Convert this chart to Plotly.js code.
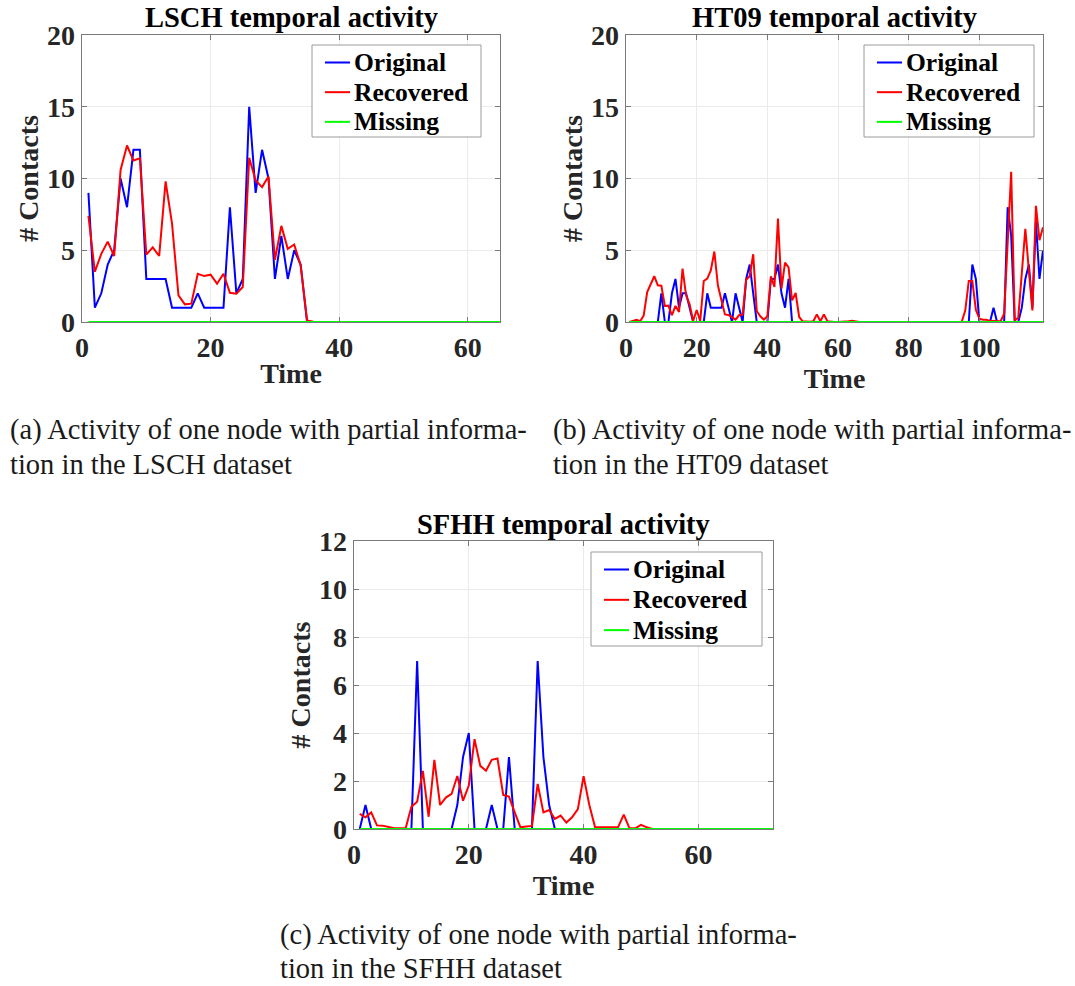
<!DOCTYPE html>
<html>
<head>
<meta charset="utf-8">
<script src="https://cdn.plot.ly/plotly-3.0.1.min.js"></script>
<style>
  html, body { margin: 0; padding: 0; background: #ffffff; }
  #chart { width: 1075px; height: 986px; }
</style>
</head>
<body>
<div id="chart"></div>
<script>
// ---- LSCH node activity (time steps 1..65) ----
const lschTime = [1,2,3,4,5,6,7,8,9,10,11,12,13,14,15,16,17,18,19,20,21,22,23,24,25,26,27,28,29,30,31,32,33,34,35,36,37,38,39,40,41,42,43,44,45,46,47,48,49,50,51,52,53,54,55,56,57,58,59,60,61,62,63,64,65];
const lschOriginal = [9,1,2,4,5,10,8,12,12,3,3,3,3,1,1,1,1,2,1,1,1,1,8,2,3,15,9,12,10,3,6,3,5,4,0,0,0,0,0,0,0,0,0,0,0,0,0,0,0,0,0,0,0,0,0,0,0,0,0,0,0,0,0,0,0];
const lschRecovered = [7.4,3.5,4.75,5.6,4.6,10.6,12.3,11.25,11.4,4.7,5.2,4.6,9.8,6.85,1.86,1.23,1.28,3.36,3.2,3.3,2.67,3.36,2.04,1.97,2.44,11.44,9.86,9.4,10.14,4.34,6.7,5.1,5.4,3.94,0.1,0.02,0,0,0,0,0,0,0,0,0,0,0,0,0,0,0,0,0,0,0,0,0,0,0,0,0,0,0,0,0];
const lschMissing = [0,0,0,0,0,0,0,0,0,0,0,0,0,0,0,0,0,0,0,0,0,0,0,0,0,0,0,0,0,0,0,0,0,0,0,0,0,0,0,0,0,0,0,0,0,0,0,0,0,0,0,0,0,0,0,0,0,0,0,0,0,0,0,0,0];

// ---- HT09 node activity (time steps 1..118) ----
const ht09Time = [1,2,3,4,5,6,7,8,9,10,11,12,13,14,15,16,17,18,19,20,21,22,23,24,25,26,27,28,29,30,31,32,33,34,35,36,37,38,39,40,41,42,43,44,45,46,47,48,49,50,51,52,53,54,55,56,57,58,59,60,61,62,63,64,65,66,67,68,69,70,71,72,73,74,75,76,77,78,79,80,81,82,83,84,85,86,87,88,89,90,91,92,93,94,95,96,97,98,99,100,101,102,103,104,105,106,107,108,109,110,111,112,113,114,115,116,117,118];
const ht09Original = [0,0,0,0,0,0,0,0,0,2,0,0,2,3,1,2,2,1,0,0,0,0,2,1,1,1,1,2,1,0,2,1,0,3,4,2,0,0,0,0,3,3,4,2,1,3,0,0,0,0,0,0,0,0,0,0,0,0,0,0,0,0,0,0,0,0,0,0,0,0,0,0,0,0,0,0,0,0,0,0,0,0,0,0,0,0,0,0,0,0,0,0,0,0,0,0,0,4,3,0,0,0,0,1,0,0,0,8,6,0,0,1,3,4,1,7,3,5];
const ht09Recovered = [0,0.1,0.15,0.05,0.45,2.09,2.7,3.19,2.56,2.53,1.12,1.14,0.47,1.12,0.7,3.72,1.86,1.23,0.07,0.84,0.07,2.86,3.02,3.6,4.91,2.56,1.51,0.53,0.49,0.35,0.16,0.47,0.53,2.95,3.19,4.72,0.77,0.4,0.16,0.4,3.19,2.44,7.21,2.33,4.14,3.81,1.51,2.02,0.35,0.05,0.02,0.02,0.05,0.53,0.05,0.53,0.05,0,0,0,0,0,0.05,0.08,0.02,0,0,0,0,0,0,0,0,0,0,0,0,0,0,0,0,0,0,0,0,0,0,0,0,0,0,0,0,0,0.02,0.8,2.86,2.86,0.86,0.23,0.16,0.16,0.07,0.07,0.07,0.05,0.58,5.2,10.47,0.1,0.3,3.4,6.5,3.6,0.8,8.1,5.7,6.6];
const ht09Missing = [0,0,0,0,0,0,0,0,0,0,0,0,0,0,0,0,0,0,0,0,0,0,0,0,0,0,0,0,0,0,0,0,0,0,0,0,0,0,0,0,0,0,0,0,0,0,0,0,0,0,0,0,0,0,0,0,0,0,0,0,0,0,0,0,0,0,0,0,0,0,0,0,0,0,0,0,0,0,0,0,0,0,0,0,0,0,0,0,0,0,0,0,0,0,0,0,0,0,0,0,0,0,0,0,0,0,0,0,0,0,0,0,0,0,0,0,0,0];

// ---- SFHH node activity (time steps 1..73) ----
const sfhhTime = [1,2,3,4,5,6,7,8,9,10,11,12,13,14,15,16,17,18,19,20,21,22,23,24,25,26,27,28,29,30,31,32,33,34,35,36,37,38,39,40,41,42,43,44,45,46,47,48,49,50,51,52,53,54,55,56,57,58,59,60,61,62,63,64,65,66,67,68,69,70,71,72,73];
const sfhhOriginal = [0,1,0,0,0,0,0,0,0,0,7,0,0,0,0,0,0,1,3,4,0,0,0,1,0,0,3,0,0,0,0,7,3,1,0,0,0,0,0,0,0,0,0,0,0,0,0,0,0,0,0,0,0,0,0,0,0,0,0,0,0,0,0,0,0,0,0,0,0,0,0,0,0];
const sfhhRecovered = [0.63,0.49,0.69,0.15,0.14,0.1,0.03,0.03,0.03,0.93,1.14,2.42,0.51,2.88,1.0,1.31,1.46,2.21,1.18,1.81,3.74,2.63,2.43,2.88,2.94,1.42,1.35,0.69,0.07,0.1,0.13,1.88,0.69,0.79,0.42,0.56,0.27,0.49,0.83,2.2,1.0,0.07,0.07,0.07,0.07,0.07,0.6,0.03,0.03,0.17,0.07,0,0,0,0,0,0,0,0,0,0,0,0,0,0,0,0,0,0,0,0,0,0];
const sfhhMissing = [0,0,0,0,0,0,0,0,0,0,0,0,0,0,0,0,0,0,0,0,0,0,0,0,0,0,0,0,0,0,0,0,0,0,0,0,0,0,0,0,0,0,0,0,0,0,0,0,0,0,0,0,0,0,0,0,0,0,0,0,0,0,0,0,0,0,0,0,0,0,0,0,0];

const seriesNames = ['Original', 'Recovered', 'Missing'];
const seriesColors = ['#0000ff', '#ff0000', '#00ff00'];

const panelTitles = ['LSCH temporal activity', 'HT09 temporal activity', 'SFHH temporal activity'];
const captionLines = [
  ['(a) Activity of one node with partial informa-', 'tion in the LSCH dataset'],
  ['(b) Activity of one node with partial informa-', 'tion in the HT09 dataset'],
  ['(c) Activity of one node with partial informa-', 'tion in the SFHH dataset']
];

const W = 1075, H = 986;
const serif = 'Liberation Serif, Times New Roman, serif';

// Pixel boxes of the three plot areas: [left, right, top, bottom]
const boxes = [
  [82, 500, 35, 322],
  [626, 1043, 35, 322],
  [354, 773, 541, 829]
];
const xRanges = [[0, 65], [0, 118], [0, 73]];
const yRanges = [[0, 20], [0, 20], [0, 12]];
const yDticks = [5, 5, 2];

// Legend boxes in pixels: [left, right, top, bottom]
const legendBoxes = [
  [312, 481, 45, 137],
  [864, 1034, 45, 137],
  [591, 762, 552, 646]
];

const px = v => v / W;          // horizontal pixel -> paper
const py = v => 1 - v / H;      // vertical pixel -> paper

const panels = [
  { t: lschTime, s: [lschOriginal, lschRecovered, lschMissing] },
  { t: ht09Time, s: [ht09Original, ht09Recovered, ht09Missing] },
  { t: sfhhTime, s: [sfhhOriginal, sfhhRecovered, sfhhMissing] }
];

const traces = [];
panels.forEach((p, i) => {
  const sfx = i === 0 ? '' : String(i + 1);
  p.s.forEach((vals, k) => {
    traces.push({
      type: 'scatter', mode: 'lines',
      x: p.t, y: vals,
      name: seriesNames[k],
      line: { color: seriesColors[k], width: 2 },
      xaxis: 'x' + sfx, yaxis: 'y' + sfx,
      showlegend: false,
      hoverinfo: 'x+y+name'
    });
  });
});

const tickFont = { family: serif, size: 28, color: '#262626', weight: 'bold' };
const labelFont = { family: serif, size: 28, color: '#262626', weight: 'bold' };

function axisBase() {
  return {
    showgrid: true, gridcolor: '#ebebeb', gridwidth: 1,
    zeroline: false,
    showline: true, linecolor: '#7a7a7a', linewidth: 1.3,
    mirror: 'ticks', ticks: 'inside', ticklen: 5, tickcolor: '#7a7a7a',
    tickfont: tickFont, automargin: false, fixedrange: true
  };
}

const layout = {
  width: W, height: H,
  margin: { l: 0, r: 0, t: 0, b: 0 },
  paper_bgcolor: '#ffffff', plot_bgcolor: '#ffffff',
  showlegend: false,
  annotations: [],
  shapes: []
};

boxes.forEach((b, i) => {
  const sfx = i === 0 ? '' : String(i + 1);
  layout['xaxis' + sfx] = Object.assign(axisBase(), {
    domain: [px(b[0]), px(b[1])], range: xRanges[i], dtick: 20, tick0: 0,
    anchor: 'y' + sfx,
    title: { text: 'Time', font: labelFont, standoff: 1 }
  });
  layout['yaxis' + sfx] = Object.assign(axisBase(), {
    domain: [py(b[3]), py(b[2])], range: yRanges[i], dtick: yDticks[i], tick0: 0,
    anchor: 'x' + sfx,
    title: { text: '# Contacts', font: labelFont, standoff: 0 }
  });

  // panel title
  layout.annotations.push({
    text: panelTitles[i], showarrow: false,
    xref: 'paper', yref: 'paper',
    x: px((b[0] + b[1]) / 2), y: py(b[2] - 17),
    xanchor: 'center', yanchor: 'middle',
    font: { family: serif, size: 28.5, color: '#000000', weight: 'bold' }
  });

  // boxed legend: frame, line sample and label for each series
  const lb = legendBoxes[i];
  layout.shapes.push({
    type: 'rect', xref: 'paper', yref: 'paper',
    x0: px(lb[0]), x1: px(lb[1]), y0: py(lb[3]), y1: py(lb[2]),
    line: { color: '#9a9a9a', width: 1 }, fillcolor: '#ffffff', layer: 'above'
  });
  const rowH = (lb[3] - lb[2]) / 3.1;
  seriesNames.forEach((name, k) => {
    const yc = lb[2] + 17.5 + k * rowH;
    layout.shapes.push({
      type: 'line', xref: 'paper', yref: 'paper',
      x0: px(lb[0] + 13), x1: px(lb[0] + 38), y0: py(yc), y1: py(yc),
      line: { color: seriesColors[k], width: 2 }, layer: 'above'
    });
    layout.annotations.push({
      text: name, showarrow: false,
      xref: 'paper', yref: 'paper',
      x: px(lb[0] + 40), y: py(yc),
      xanchor: 'left', yanchor: 'middle',
      font: { family: serif, size: 25.5, color: '#000000', weight: 'bold' }
    });
  });
});

// sub-figure captions, one annotation per line: [left, first line centre, second line centre]
const capPos = [[8, 430, 465], [551, 430, 465], [278, 935, 968]];
captionLines.forEach((lines, i) => {
  lines.forEach((line, j) => {
    layout.annotations.push({
      text: line, showarrow: false, align: 'left',
      xref: 'paper', yref: 'paper',
      x: px(capPos[i][0]), y: py(capPos[i][1 + j]),
      xanchor: 'left', yanchor: 'middle',
      font: { family: serif, size: 28.5, color: '#1a1a1a' }
    });
  });
});

Plotly.newPlot('chart', traces, layout, { displayModeBar: false, staticPlot: true });
</script>
</body>
</html>
